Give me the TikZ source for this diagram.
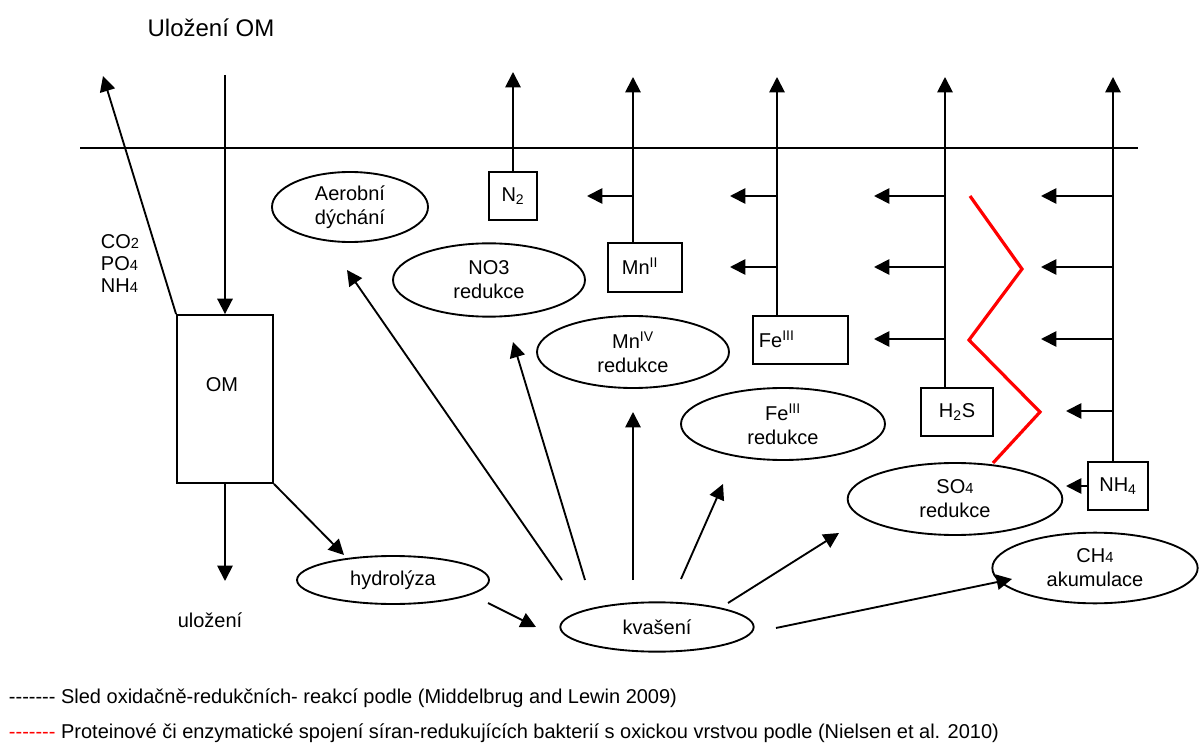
\documentclass[tikz,border=0pt]{standalone}
\usepackage{fontspec}
\setmainfont{Liberation Sans}
\usetikzlibrary{shapes.geometric,arrows.meta}
\newcommand\smd[1]{{\fontsize{11pt}{11pt}\selectfont #1}}
\newcommand\legdashes{-{}-{}-{}-{}-{}-{}-}
\begin{document}
\begin{tikzpicture}[x=0.75pt,y=-0.75pt,
  font=\fontsize{15pt}{18pt}\selectfont,
  line width=1.4pt,
  arr/.style={-{Triangle[length=11.5pt,width=11.5pt]}},
  ell/.style={ellipse,draw,inner sep=0pt,align=center},
  box/.style={rectangle,draw,inner sep=0pt},
  lbl/.style={inner sep=0pt},
  zig/.style={draw=red,line width=2.4pt},
  legend/.style={anchor=west,inner sep=0pt,font=\fontsize{15pt}{16pt}\selectfont}]
\useasboundingbox (0,0) rectangle (1200,745);

% title
\node[lbl,font=\fontsize{18pt}{20pt}\selectfont] (title) at (211,28) {Uložení OM};

% surface line
\coordinate (sl) at (80,148);
\coordinate (sr) at (1138,148);
\draw (sl) -- (sr);

% OM box
\node[box,minimum width=72pt,minimum height=126pt] (om) at (225,399) {};
\node[lbl] (omt) at (222,385) {OM};
\coordinate (omin) at (225,75);
\coordinate (omup) at (103,76);
\coordinate (omdown) at (225,581);
\draw[arr] (omin) -- (om.north);
\draw[arr] (om.north west) -- (omup);
\draw[arr] (om.south) -- (omdown);
\node[lbl,anchor=west,align=left,font=\fontsize{15pt}{16.5pt}\selectfont] (nutr) at (100,264) {CO\smd{2}\\PO\smd{4}\\NH\smd{4}};
\node[lbl] (ulo) at (210,620) {uložení};

% ellipses
\node[ell,minimum width=117pt,minimum height=52.5pt] (aer) at (350,207) {Aerobní\\dýchání};
\node[ell,minimum width=144pt,minimum height=55pt] (no3) at (489,280) {NO3\\redukce};
\node[ell,minimum width=144pt,minimum height=54pt] (mn4) at (633,352) {Mn\textsuperscript{IV}\\redukce};
\node[ell,minimum width=153pt,minimum height=54pt] (fe3) at (783,424) {Fe\textsuperscript{III}\\redukce};
\node[ell,minimum width=161pt,minimum height=54pt] (so4) at (955,499) {SO\smd{4}\\redukce};
\node[ell,minimum width=154pt,minimum height=53pt] (ch4) at (1095,568) {CH\smd{4}\\akumulace};
\node[ell,minimum width=144pt,minimum height=36pt] (hyd) at (393,580) {hydrolýza};
\node[ell,minimum width=145pt,minimum height=37pt] (kva) at (657,627) {kvašení};

% OM -> hydrolyza -> kvaseni
\coordinate (hydin) at (344,555);
\draw[arr] (om.south east) -- (hydin);
\coordinate (h1) at (488,603);
\coordinate (h2) at (536,627);
\draw[arr] (h1) -- (h2);

% kvaseni fan
\coordinate (k1) at (562,580); \coordinate (t1) at (347,270);
\coordinate (k2) at (585,580); \coordinate (t2) at (513,342);
\coordinate (k3) at (633,580); \coordinate (t3) at (633,412);
\coordinate (k4) at (681,579); \coordinate (t4) at (723,484);
\coordinate (k5) at (728,603); \coordinate (t5) at (839,533);
\coordinate (k6) at (776,628); \coordinate (t6) at (1012,579);
\draw[arr] (k1) -- (t1);
\draw[arr] (k2) -- (t2);
\draw[arr] (k3) -- (t3);
\draw[arr] (k4) -- (t4);
\draw[arr] (k5) -- (t5);
\draw[arr] (k6) -- (t6);

% product boxes
\node[box,minimum width=36pt,minimum height=36pt] (n2) at (513,196) {N\textsubscript{2}};
\node[box,minimum width=55.5pt,minimum height=36.75pt] (mn2) at (645,267.5) {};
\node[lbl,anchor=west] (mn2t) at (621,266) {Mn\textsuperscript{II}};
\node[box,minimum width=71pt,minimum height=36pt] (fe3b) at (800.5,340) {};
\node[lbl,anchor=west] (fe3bt) at (758,339) {Fe\textsuperscript{III}};
\node[box,minimum width=54pt,minimum height=36pt] (h2s) at (957,412) {H\textsubscript{2}S};
\node[box,minimum width=45pt,minimum height=36pt] (nh4) at (1118,486) {NH\textsubscript{4}};

% columns
\coordinate (n2top) at (513,72);
\draw[arr] (n2.north) -- (n2top);

\coordinate (mntop) at (633,77);
\draw[arr] (mntop |- mn2.north) -- (mntop);
\coordinate (mna) at (633,196); \coordinate (mnb) at (587,196);
\draw[arr] (mna) -- (mnb);

\coordinate (fetop) at (777,77);
\draw[arr] (fetop |- fe3b.north) -- (fetop);
\foreach \yy in {196,267} {
  \draw[arr] (777,\yy) -- (730,\yy);
}

\coordinate (hstop) at (945,77);
\draw[arr] (hstop |- h2s.north) -- (hstop);
\foreach \yy in {196,267,339} {
  \draw[arr] (945,\yy) -- (874,\yy);
}

\coordinate (nhtop) at (1113,77);
\draw[arr] (nhtop |- nh4.north) -- (nhtop);
\foreach \yy in {196,267,339} {
  \draw[arr] (1113,\yy) -- (1041,\yy);
}
\coordinate (nha) at (1113,411); \coordinate (nhb) at (1066,411);
\draw[arr] (nha) -- (nhb);
\coordinate (nhso) at (1066,486);
\draw[arr] (nh4.west) -- (nhso);

% red zigzag
\draw[zig] (970,196) -- (1022,269) -- (969,340) -- (1040,412) -- (993,463);

% legend
\node[legend] (leg1) at (8,698) {\legdashes\ Sled oxidačně-redukčních- reakcí podle (Middelbrug and Lewin 2009)};
\node[legend] (leg2) at (8,733) {\textcolor{red}{\legdashes}\ Proteinové či enzymatické spojení síran-redukujících bakterií s oxickou vrstvou podle (Nielsen et al. 2010)};
\end{tikzpicture}
\end{document}
